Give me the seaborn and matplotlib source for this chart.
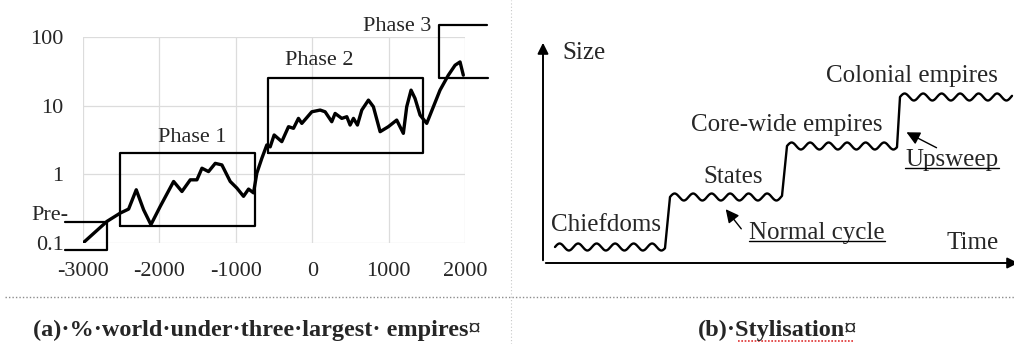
import numpy as np
import pandas as pd
import matplotlib
matplotlib.use("Agg")
import matplotlib.pyplot as plt
import seaborn as sns

# (a) % of world under the three largest empires
years = [-2990, -2686, -2512, -2403, -2303, -2207, -2111, -1989, -1814, -1705,
         -1596, -1509, -1443, -1357, -1269, -1182, -1073, -986, -899, -833,
         -768, -725, -659, -594, -550, -498, -398, -310, -245, -180,
         -136, -79, -5, 104, 169, 256, 300, 387, 453, 496,
         540, 592, 649, 736, 801, 889, 997, 1106, 1193, 1237,
         1294, 1346, 1412, 1499, 1586, 1673, 1782, 1870, 1935, 1978]
log_share = [-0.99, -0.685, -0.564, -0.506, -0.225, -0.516, -0.733, -0.467, -0.104, -0.25,
             -0.08, -0.08, 0.089, 0.04, 0.16, 0.137, -0.104, -0.2, -0.32, -0.215,
             -0.27, 0.016, 0.234, 0.428, 0.40, 0.573, 0.476, 0.694, 0.67, 0.815,
             0.742, 0.815, 0.911, 0.936, 0.911, 0.766, 0.887, 0.815, 0.839, 0.718,
             0.815, 0.718, 0.936, 1.081, 0.984, 0.621, 0.694, 0.79, 0.597, 0.984,
             1.226, 1.105, 0.863, 0.742, 0.984, 1.226, 1.444, 1.589, 1.637, 1.444]
share = [10 ** v for v in log_share]

x_ticks = [-3000, -2000, -1000, 0, 1000, 2000]
x_labels = ["-3000", "-2000", "-1000", "0", "1000", "2000"]
y_ticks = [0.1, 1, 10, 100]
y_labels = ["0.1", "1", "10", "100"]

# (b) stylised stages
stages = ["Chiefdoms", "States", "Core-wide empires", "Colonial empires"]
stage_start = [12, 127, 244, 357]
stage_end = [122, 239, 354, 469]
stage_level = [16, 66, 117, 166]

sns.set_theme(style="white")
plt.rcParams["font.family"] = ["Liberation Serif", "DejaVu Serif"]

fig = plt.figure(figsize=(10.14, 3.44), dpi=100)
W, H = 1014, 344

def frac(x0, y0, x1, y1):
    return [x0 / W, 1 - y1 / H, (x1 - x0) / W, (y1 - y0) / H]

# ---------- panel a ----------
ax = fig.add_axes(frac(83, 37, 465, 243))
df = pd.DataFrame({"year": years, "share": share})
sns.lineplot(data=df, x="year", y="share", ax=ax, color="black", lw=2.4)
ax.set_yscale("log")
ax.set_xlim(-3000, 2000)
ax.set_ylim(0.1, 100)
ax.set_xticks(x_ticks)
ax.set_xticklabels(x_labels)
ax.set_yticks(y_ticks)
ax.set_yticklabels(y_labels)
ax.yaxis.set_minor_locator(matplotlib.ticker.NullLocator())
ax.tick_params(length=0, labelsize=16, pad=14)
ax.set_xlabel("")
ax.set_ylabel("")
ax.grid(True, color="#dcdcdc", lw=0.9)
for s in ax.spines.values():
    s.set_visible(False)

box_kw = dict(color="black", lw=1.6, clip_on=False)
ax.plot([-3240, -2690, -2690, -3240], [0.205, 0.205, 0.08, 0.08], **box_kw)
ax.plot([-2520, -746, -746, -2520, -2520], [0.175, 0.175, 2.03, 2.03, 0.175], **box_kw)
ax.plot([-572, 1446, 1446, -572, -572], [2.03, 2.03, 25.7, 25.7, 2.03], **box_kw)
ax.plot([2290, 1664, 1664, 2300], [151, 151, 25.7, 25.7], **box_kw)

ax.text(-3190, 0.25, "Pre-", ha="right", va="center", fontsize=16, clip_on=False)
ax.text(-1573, 3.4, "Phase 1", ha="center", va="center", fontsize=16)
ax.text(89, 46, "Phase 2", ha="center", va="center", fontsize=16)
ax.text(1110, 144, "Phase 3", ha="center", va="center", fontsize=16, clip_on=False)

# ---------- panel b ----------
bx = fig.add_axes(frac(543, 40, 1014, 263))
bx.set_xlim(0, 471)
bx.set_ylim(0, 223)
bx.axis("off")
bx.annotate("", xy=(0, 223), xytext=(0, 0),
            arrowprops=dict(arrowstyle="-|>", color="black", lw=1.4, mutation_scale=16),
            annotation_clip=False)
bx.annotate("", xy=(478, 0), xytext=(0, 0),
            arrowprops=dict(arrowstyle="-|>", color="black", lw=1.4, mutation_scale=16),
            annotation_clip=False)

wx, wy = [], []
for i in range(len(stages)):
    t = np.linspace(stage_start[i], stage_end[i], 200)
    ripple = 3.5 * np.sin(2 * np.pi * (t - stage_start[i]) / 18.5)
    wx.extend(t)
    wy.extend(stage_level[i] + ripple)
wave = pd.DataFrame({"t": wx, "size": wy})
sns.lineplot(data=wave, x="t", y="size", ax=bx, color="black", lw=1.7,
             sort=False, estimator=None)
bx.set_xlim(0, 471)
bx.set_ylim(0, 223)

tkw = dict(fontsize=18, va="center", ha="center")
bx.text(63, 38, stages[0], **tkw)
bx.text(190, 86, stages[1], **tkw)
bx.text(244, 138, stages[2], **tkw)
bx.text(369, 187, stages[3], **tkw)
bx.text(19, 210, "Size", fontsize=18, va="center", ha="left")
bx.text(430, 20, "Time", fontsize=18, va="center", ha="center")
t_norm = bx.text(274, 30, "Normal cycle", **tkw)
t_up = bx.text(409, 103, "Upsweep", **tkw)
bx.annotate("", xy=(181, 56), xytext=(200, 32),
            arrowprops=dict(arrowstyle="-|>", color="black", lw=1.0, mutation_scale=20))
bx.annotate("", xy=(361, 132), xytext=(396, 114),
            arrowprops=dict(arrowstyle="-|>", color="black", lw=1.0, mutation_scale=20))

# captions and table borders
fig.text(257 / W, 1 - 330 / H, "(a)·%·world·under·three·largest· empires¤",
         ha="center", va="center", fontsize=17.5, fontweight="bold")
fig.text(778 / W, 1 - 330 / H, "(b)·Stylisation¤",
         ha="center", va="center", fontsize=17.5, fontweight="bold")
fig.add_artist(plt.Line2D([5 / W, 1], [1 - 297 / H, 1 - 297 / H], color="#8c8c8c",
                          lw=1.0, ls=(0, (1, 1.5))))
fig.add_artist(plt.Line2D([511 / W, 511 / W], [0, 1], color="#c8c8c8",
                          lw=0.8, ls=(0, (1, 2))))
# spell-check squiggle under "Stylisation"
fig.add_artist(plt.Line2D([738 / W, 853 / W], [1 - 341 / H, 1 - 341 / H],
                          color="#e03030", lw=1.2, ls=(0, (1, 1))))

# underline the two labels
fig.canvas.draw()
r = fig.canvas.get_renderer()
inv = fig.transFigure.inverted()
for t in (t_norm, t_up):
    bb = t.get_window_extent(r)
    (x0, y0), (x1, _) = inv.transform([(bb.x0, bb.y0 + 3), (bb.x1, bb.y0)])
    fig.add_artist(plt.Line2D([x0, x1], [y0, y0], color="black", lw=1.0))

fig.savefig("out.png", dpi=100)
